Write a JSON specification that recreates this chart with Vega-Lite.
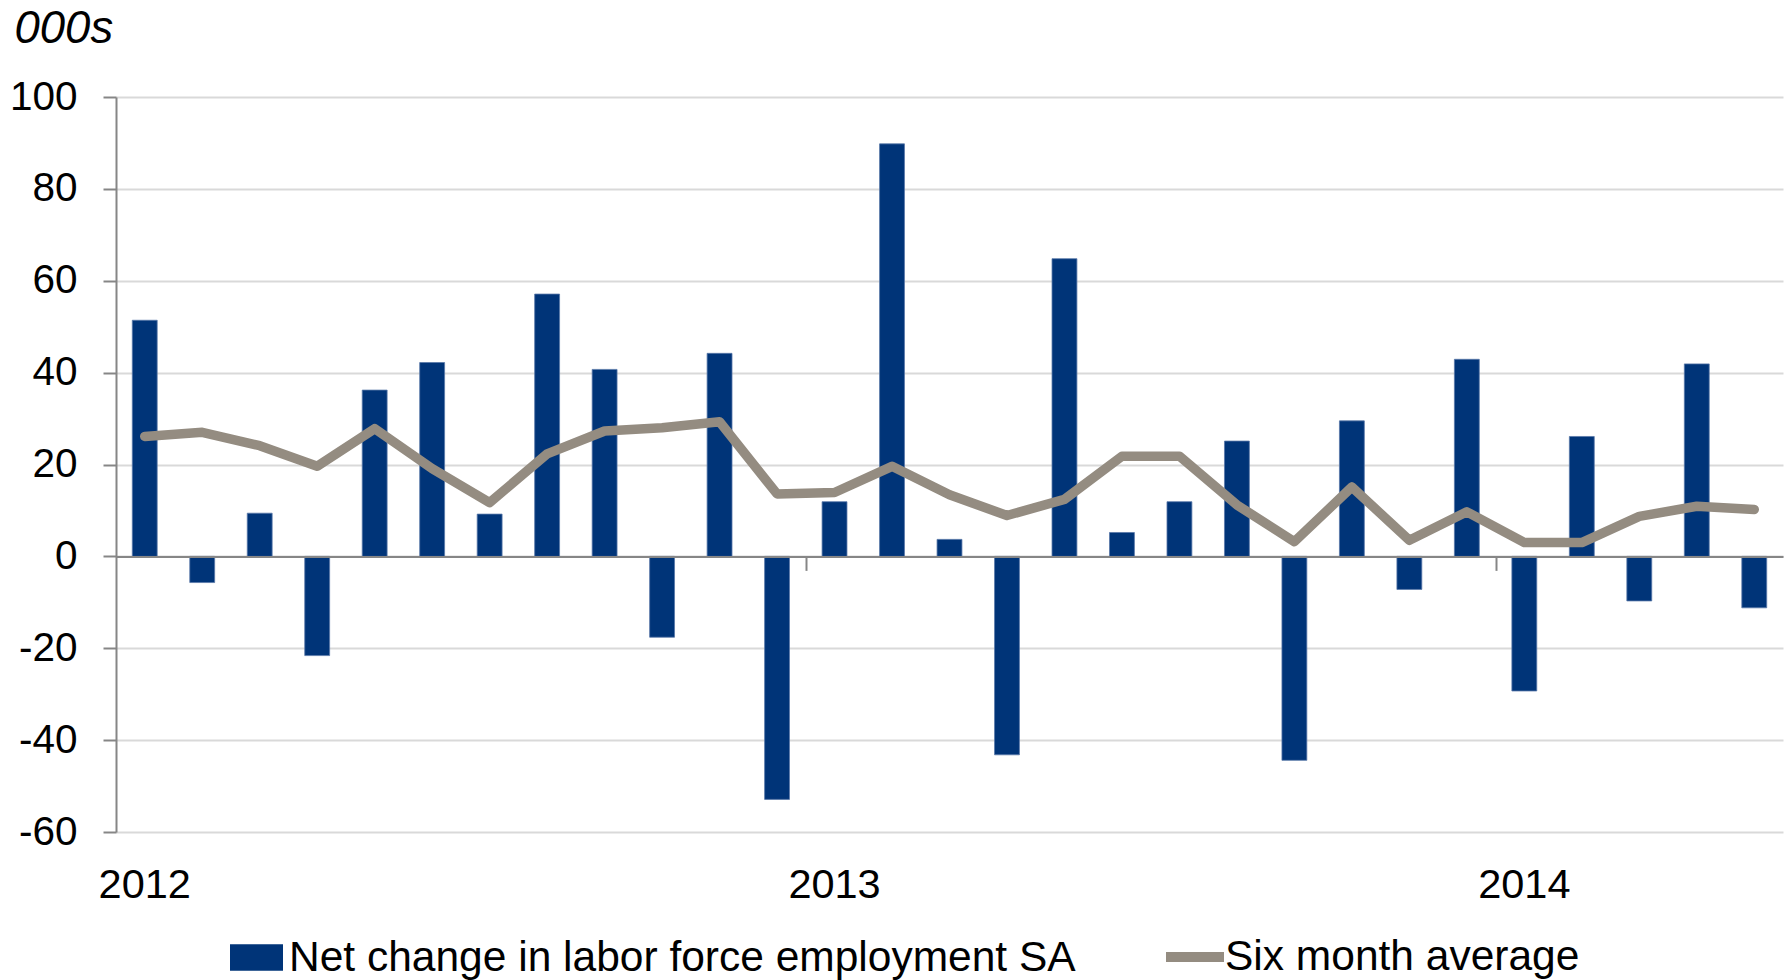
{
  "$schema": "https://vega.github.io/schema/vega-lite/v6.json",
  "autosize": "none",
  "width": 1667,
  "height": 735,
  "padding": {"left": 116, "top": 97, "right": 2, "bottom": 148},
  "background": "white",
  "config": {
    "font": "Liberation Sans",
    "view": {"stroke": null},
    "axis": {"labelFont": "Liberation Sans", "titleFont": "Liberation Sans", "labelColor": "#000000", "titleColor": "#000000"},
    "legend": {"labelFont": "Liberation Sans", "labelColor": "#000000"}
  },
  "data": {
    "values": [
      {"month": "2012-01", "net": 51.4, "avg": 26.1},
      {"month": "2012-02", "net": -5.7, "avg": 27.0},
      {"month": "2012-03", "net": 9.4, "avg": 24.1},
      {"month": "2012-04", "net": -21.6, "avg": 19.6},
      {"month": "2012-05", "net": 36.2, "avg": 27.8},
      {"month": "2012-06", "net": 42.2, "avg": 19.1},
      {"month": "2012-07", "net": 9.2, "avg": 11.7},
      {"month": "2012-08", "net": 57.1, "avg": 22.3},
      {"month": "2012-09", "net": 40.7, "avg": 27.3},
      {"month": "2012-10", "net": -17.6, "avg": 28.0},
      {"month": "2012-11", "net": 44.2, "avg": 29.3},
      {"month": "2012-12", "net": -52.9, "avg": 13.6},
      {"month": "2013-01", "net": 11.9, "avg": 13.9},
      {"month": "2013-02", "net": 89.8, "avg": 19.6},
      {"month": "2013-03", "net": 3.7, "avg": 13.4},
      {"month": "2013-04", "net": -43.2, "avg": 8.9},
      {"month": "2013-05", "net": 64.8, "avg": 12.4},
      {"month": "2013-06", "net": 5.2, "avg": 21.8},
      {"month": "2013-07", "net": 11.9, "avg": 21.8},
      {"month": "2013-08", "net": 25.1, "avg": 11.2},
      {"month": "2013-09", "net": -44.4, "avg": 3.2},
      {"month": "2013-10", "net": 29.5, "avg": 15.1},
      {"month": "2013-11", "net": -7.2, "avg": 3.5},
      {"month": "2013-12", "net": 42.9, "avg": 9.7},
      {"month": "2014-01", "net": -29.3, "avg": 3.0},
      {"month": "2014-02", "net": 26.1, "avg": 3.0},
      {"month": "2014-03", "net": -9.7, "avg": 8.7},
      {"month": "2014-04", "net": 41.9, "avg": 10.9},
      {"month": "2014-05", "net": -11.2, "avg": 10.2}
    ]
  },
  "layer": [
    {
      "mark": {"type": "bar", "stroke": "#5877A8", "strokeWidth": 0.8},
      "encoding": {
        "x": {
          "field": "month", "type": "ordinal",
          "scale": {"paddingInner": 0.567, "paddingOuter": 0.2835},
          "axis": {
            "title": null, "orient": "bottom",
            "values": ["2012-01", "2013-01", "2014-01"],
            "labelExpr": "substring(datum.value, 0, 4)",
            "labelAngle": 0, "labelFontSize": 41.5, "labelPadding": 32,
            "ticks": false, "domain": false, "grid": false
          }
        },
        "y": {
          "field": "net", "type": "quantitative",
          "scale": {"domain": [-60, 100], "nice": false, "zero": false},
          "axis": {
            "values": [-60, -40, -20, 0, 20, 40, 60, 80, 100],
            "labelExpr": "datum.value < 0 ? '-' + abs(datum.value) : '' + datum.value",
            "labelFontSize": 40.5, "labelPadding": 26,
            "tickSize": 13, "tickColor": "#868686", "tickWidth": 2,
            "domainColor": "#868686", "domainWidth": 2,
            "gridColor": "#D9D9D9", "gridWidth": 2,
            "title": "000s", "titleAngle": 0, "titleFontStyle": "italic",
            "titleFontWeight": "normal", "titleFontSize": 45.5,
            "titleAlign": "left", "titleBaseline": "alphabetic",
            "titleX": -102, "titleY": -55
          }
        },
        "fill": {
          "datum": "Net change in labor force employment SA",
          "scale": {"range": ["#003478"]},
          "legend": {
            "title": null, "orient": "none", "legendX": 114, "legendY": 834,
            "symbolType": "M-1,-0.5H1V0.5H-1Z", "symbolSize": 2809,
            "symbolStrokeWidth": 0, "labelFontSize": 42.5, "labelOffset": 6,
            "labelLimit": 2000, "padding": 0
          }
        }
      }
    },
    {
      "mark": {"type": "line", "strokeWidth": 9.5, "strokeCap": "round", "strokeJoin": "round"},
      "encoding": {
        "x": {
          "field": "month", "type": "ordinal",
          "axis": {
            "title": null, "orient": "bottom", "offset": -275.625,
            "values": ["2013-01", "2014-01"],
            "labels": false, "grid": false,
            "tickOffset": -28.74, "tickSize": 14, "tickColor": "#868686", "tickWidth": 2,
            "domainColor": "#868686", "domainWidth": 2, "zindex": 1
          }
        },
        "y": {"field": "avg", "type": "quantitative"},
        "stroke": {
          "datum": "Six month average",
          "scale": {"range": ["#948C81"]},
          "legend": {
            "title": null, "orient": "none", "legendX": 1045, "legendY": 826,
            "symbolType": "stroke", "symbolSize": 3364, "symbolStrokeWidth": 10,
            "labelFontSize": 42.5, "labelOffset": -4, "labelLimit": 2000, "padding": 0
          }
        }
      }
    }
  ],
  "resolve": {"axis": {"x": "independent"}}
}
